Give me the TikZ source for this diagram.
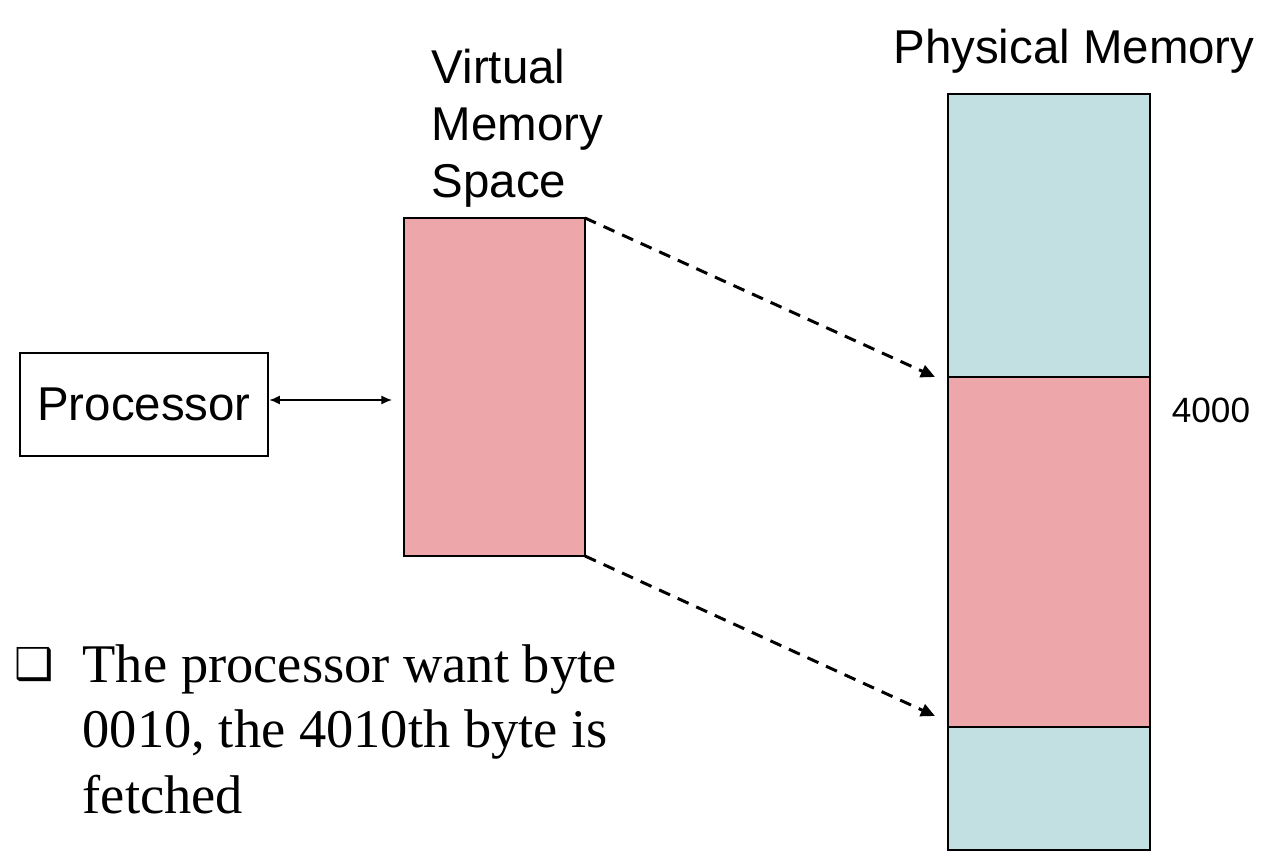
\documentclass[tikz,border=0pt]{standalone}
\usepackage{fontspec}
\setmainfont{Liberation Serif}
\setsansfont{Liberation Sans}
\newfontfamily\symfont{DejaVu Sans}
\usepackage{xcolor}
\usetikzlibrary{arrows.meta}
\definecolor{segpink}{HTML}{EDA6AA}
\definecolor{segblue}{HTML}{C2E0E1}

\begin{document}
\begin{tikzpicture}[
  membox/.style={draw=black,line width=0.6pt,inner sep=0pt,outer sep=0pt},
  maplink/.style={dashed,line width=0.85pt,dash pattern=on 3.4pt off 2.4pt,-{Triangle[length=4pt,width=3.6pt]}},
  lbl/.style={font=\sffamily\fontsize{13.5}{16.2}\selectfont,inner sep=0pt}
]
\useasboundingbox (0,0) rectangle (12.72,-8.6);
% processor
\node[draw,line width=0.8pt,minimum width=2.48cm,minimum height=1.03cm,lbl] (cpu) at (1.44,-4.045) {Processor};
% virtual memory space
\node[membox,fill=segpink,minimum width=1.81cm,minimum height=3.38cm] (vm) at (4.945,-3.87) {};
\node[lbl,align=left,anchor=west] (vmlbl) at (4.31,-1.28) {Virtual\\Memory\\Space};
% physical memory
\node[membox,fill=segblue,minimum width=2.02cm,minimum height=2.83cm] (ptop) at (10.49,-2.355) {};
\node[membox,fill=segpink,minimum width=2.02cm,minimum height=3.5cm,anchor=north] (pmid) at (ptop.south) {};
\node[membox,fill=segblue,minimum width=2.02cm,minimum height=1.23cm,anchor=north] (pbot) at (pmid.south) {};
\node[lbl] (pmlbl) at (10.74,-0.51) {Physical Memory};
\node[font=\sffamily\fontsize{10}{12}\selectfont,inner sep=0pt] (addr) at (12.11,-4.1) {4000};
% arrows
\coordinate (vmin) at (3.92,-4.0);
\draw[line width=0.4pt,{Latex[length=3pt,width=2.6pt]}-{Latex[length=3pt,width=2.6pt]}] (cpu.east |- vmin) -- (vmin);
\coordinate (hitA) at (9.35,-3.77);
\coordinate (hitB) at (9.35,-7.16);
\draw[maplink] (vm.north east) -- (hitA);
\draw[maplink] (vm.south east) -- (hitB);
% note
\node[inner sep=0pt,font=\symfont\fontsize{12.5}{14}\selectfont] (bul) at (0.345,-6.645) {❑};
\node[anchor=north west,align=left,inner sep=0pt,font=\fontsize{15.5}{18.6}\selectfont] (note) at (0.82,-6.44) {The processor want byte\\0010, the 4010th byte is\\fetched};
\end{tikzpicture}
\end{document}
